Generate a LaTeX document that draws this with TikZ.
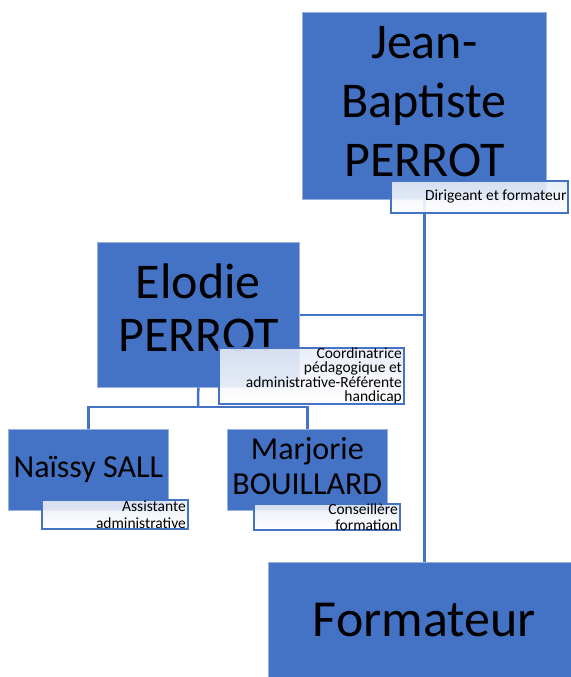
\documentclass[tikz,border=0pt]{standalone}
\usepackage{fontspec}
\setmainfont{Carlito}
\usetikzlibrary{positioning}
\definecolor{boxblue}{RGB}{68,114,196}
\definecolor{bandblue}{RGB}{230,235,246}
\newcommand{\liftText}[2]{\raisebox{#1}{\begin{tabular}{@{}c@{}}#2\end{tabular}}}

\begin{document}
\begin{tikzpicture}[x = 1pt, y = -1pt]
\tikzstyle{personStyle} = [shape = rectangle, anchor = north west, fill = boxblue, draw = boxblue!55!white, line width = 0.6pt, inner sep = 0pt]
\tikzstyle{roleStyle} = [shape = rectangle, anchor = north west, top color = bandblue, bottom color = white, fill opacity = 0.9, text opacity = 1, draw = boxblue, line width = 1.8pt, align = flush right, execute at begin node = {\spaceskip=0pt\xspaceskip=0pt}, inner sep = 0pt]
\tikzstyle{linkStyle} = [draw = boxblue, line width = 2.5pt]
\useasboundingbox (0,0) rectangle (570,677);
\node[personStyle, minimum width = 244pt, minimum height = 187pt, font = \fontsize{50}{59}\selectfont] (jbp) at (302,12) {\liftText{3pt}{Jean-\\Baptiste\\PERROT}};
\node[personStyle, minimum width = 202pt, minimum height = 145pt, font = \fontsize{50}{53}\selectfont] (elodie) at (97,242) {\liftText{4.5pt}{Elodie\\PERROT}};
\node[personStyle, minimum width = 160pt, minimum height = 81pt, font = \fontsize{32}{38}\selectfont] (naissy) at (8,429) {\liftText{3pt}{Naïssy SALL}};
\node[personStyle, minimum width = 160pt, minimum height = 81pt, font = \fontsize{32}{35}\selectfont] (marjorie) at (227,429) {\liftText{2pt}{Marjorie\\BOUILLARD}};
\node[personStyle, minimum width = 312pt, minimum height = 125pt, font = \fontsize{52}{60}\selectfont] (formateur) at (268,562) {\liftText{3.5pt}{Formateur}};
\coordinate (bus) at (198,407);
\draw[linkStyle] (jbp.south) -- (formateur.north -| jbp.south);
\draw[linkStyle] (elodie.east) -- (elodie.east -| jbp.south);
\draw[linkStyle] (elodie.south) -- (bus);
\draw[linkStyle] (naissy.north) |- (bus) -| (marjorie.north);
\node[roleStyle, minimum width = 177pt, minimum height = 32pt, text width = 174pt, font = \fontsize{15.5}{17}\selectfont] (jbpRole) at (390,180) {\raisebox{-3pt}{Dirigeant et formateur}};
\node[roleStyle, minimum width = 185pt, minimum height = 53pt, text width = 181pt, font = \fontsize{15.5}{14.3}\selectfont] (elodieRole) at (218,347) {Coordinatrice\\pédagogique et\\administrative-Référente\\handicap};
\node[roleStyle, minimum width = 146pt, minimum height = 29pt, text width = 142pt, font = \fontsize{15.5}{17}\selectfont] (naissyRole) at (41,499) {Assistante\\administrative};
\node[roleStyle, minimum width = 146pt, minimum height = 25pt, text width = 142pt, font = \fontsize{15.5}{15.5}\selectfont] (marjorieRole) at (253,503) {Conseillère\\formation};
\end{tikzpicture}
\end{document}
